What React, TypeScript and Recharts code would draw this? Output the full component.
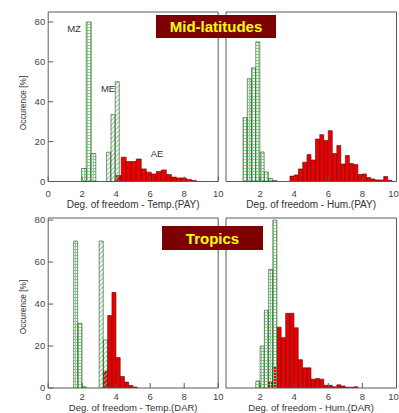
import React from 'react';
import { ComposedChart, Bar, XAxis, YAxis } from 'recharts';

// ---------- tick values ----------
const majorXTicksLeft = [0, 2, 4, 6, 8, 10];
const majorXTicksRight = [2, 4, 6, 8, 10];
const minorXMarks = [0.5, 1, 1.5, 2.5, 3, 3.5, 4.5, 5, 5.5, 6.5, 7, 7.5, 8.5, 9, 9.5];
const majorYTicks = [0, 20, 40, 60, 80];
const minorYMarks = [5, 10, 15, 25, 30, 35, 45, 50, 55, 65, 70, 75];

// ---------- Mid-latitudes, Temp (PAY) ----------
const tempPayMzX = [2.1, 2.37, 2.64];
const tempPayMzY = [6.5, 80, 14];
const tempPayMeX = [3.56, 3.82, 4.07];
const tempPayMeY = [14.7, 33.5, 50];
const tempPayAeX = [4.148, 4.443, 4.738, 5.033, 5.328, 5.623, 5.918, 6.213, 6.508, 6.803, 7.098, 7.393, 7.688, 7.983, 8.278, 8.573];
const tempPayAeY = [3, 12.2, 10, 10, 11.3, 6.3, 4.7, 3.8, 5, 5.8, 3.5, 2.2, 1.8, 1.8, 1, 0.5];

// ---------- Mid-latitudes, Hum (PAY) ----------
const humPayGreenX = [1.125, 1.375, 1.625, 1.875, 2.125, 2.375, 2.625, 2.875];
const humPayGreenY = [32, 51.5, 57, 70, 14.8, 4.8, 1.5, 0.5];
const humPayRedX = [3.875, 4.125, 4.375, 4.625, 4.875, 5.125, 5.375, 5.625, 5.875, 6.125, 6.375, 6.625, 6.875, 7.125, 7.375, 7.625, 7.875, 8.125, 8.375, 8.625, 8.875, 9.125, 9.375, 9.625];
const humPayRedY = [2.7, 3.3, 6.3, 9.7, 13.5, 10.8, 21.3, 23.5, 20.5, 25.5, 14, 18, 8.8, 13, 9, 8.5, 3.5, 3.8, 2, 1.3, 0.8, 0.8, 2.5, 0.6];

// ---------- Tropics, Temp (DAR) ----------
const tempDarGreen1X = [1.625, 1.875, 2.125];
const tempDarGreen1Y = [70, 30.8, 0.6];
const tempDarGreen2X = [3.125, 3.375];
const tempDarGreen2Y = [70, 22.9];
const tempDarRedX = [3.375, 3.625, 3.875, 4.125, 4.375, 4.625, 4.875, 5.125];
const tempDarRedY = [8, 34.5, 45.5, 14.5, 5.5, 2.8, 1.2, 0.5];

// ---------- Tropics, Hum (DAR) ----------
const humDarGreenX = [1.875, 2.125, 2.375, 2.625, 2.875];
const humDarGreenY = [3.3, 20, 37, 56.5, 80];
const humDarRedX = [2.625, 2.875, 3.125, 3.375, 3.625, 3.875, 4.125, 4.375, 4.625, 4.875, 5.125, 5.375, 5.625, 5.875, 6.125, 6.375, 6.625, 6.875, 7.125, 7.375, 7.625];
const humDarRedY = [3, 10, 29, 24, 35.6, 35.6, 28.7, 13.5, 9.6, 9.6, 4.2, 4.5, 4.2, 1.3, 1.3, 0.6, 1.5, 1, 0.4, 0.4, 0.6];

// ---------- layout ----------
const W = 399;
const H = 413;
const AX = 1; // size reserved by every axis
const FONT = '"Liberation Sans", Arial, Helvetica, sans-serif';
const RED = { fill: '#ee0000', stroke: '#5a0000' };
const GRID = { fill: 'url(#gridGreen)', stroke: '#2e3a2e' };
const DIAG = { fill: 'url(#diagGreen)', stroke: '#2e3a2e' };
const FRAME = '#5a5a5a';
const TICKFONT = { fontSize: 9.5, fill: '#444', fontFamily: FONT };

type Geom = { left: number; right: number; top: number; bottom: number; ymax: number; labelGap: number; lastEnd: boolean };
type Series = { xs: number[]; ys: number[]; style: { fill: string; stroke: string } };

const geomTL: Geom = { left: 48.2, right: 218.2, top: 12, bottom: 181.5, ymax: 85, labelGap: 9, lastEnd: false };
const geomTR: Geom = { left: 226, right: 396.5, top: 12, bottom: 181.5, ymax: 85, labelGap: 9, lastEnd: true };
const geomBL: Geom = { left: 48.2, right: 218.2, top: 218, bottom: 388, ymax: 81, labelGap: 5.5, lastEnd: false };
const geomBR: Geom = { left: 226, right: 396.5, top: 218, bottom: 388, ymax: 81, labelGap: 5.5, lastEnd: true };

const marginOf = (g: Geom) => ({ left: g.left - AX, top: g.top - AX, right: W - g.right - AX, bottom: H - g.bottom - AX });

function XTick(props: any) {
  const { x, y, payload, lastEnd } = props;
  const atEnd = lastEnd && payload && payload.value === 10;
  return (
    <text x={atEnd ? x + 2.3 : x} y={y} dy="0.71em" textAnchor={atEnd ? 'end' : 'middle'}
      fontSize={9.5} fill="#444" fontFamily={FONT}>
      {payload.value}
    </text>
  );
}

// role 0: frame + labels + major ticks; role 1: minor ticks; role 2: nothing
function SeriesChart({ g, s, role, showYLabels, xLabels }: { g: Geom; s: Series; role: number; showYLabels: boolean; xLabels: number[] }) {
  const rows = s.xs.map((x, i) => ({ x, y: s.ys[i] }));
  const frame = role === 0 ? { stroke: FRAME } : false;
  const tl = role === 2 ? false : { stroke: FRAME };
  const len = role === 0 ? -5 : -2.5;
  const xt = role === 0 ? xLabels : minorXMarks;
  const yt = role === 0 ? majorYTicks : minorYMarks;
  return (
    <div style={{ position: 'absolute', left: 0, top: 0 }}>
      <ComposedChart width={W} height={H} margin={marginOf(g)} data={rows} barCategoryGap={0} barGap={0}>
        <XAxis xAxisId="d" dataKey="x" type="number" domain={[0, 10]} allowDataOverflow height={AX}
          ticks={xt} interval={0} tickSize={len} tickLine={tl} axisLine={frame}
          tickMargin={g.labelGap + 5} tick={role === 0 ? <XTick lastEnd={g.lastEnd} /> : false} />
        <XAxis xAxisId="t" orientation="top" type="number" domain={[0, 10]} allowDataOverflow height={AX}
          ticks={xt} interval={0} tickSize={len} tickLine={tl} axisLine={frame} tick={false} />
        <YAxis yAxisId="d" type="number" domain={[0, g.ymax]} allowDataOverflow width={AX}
          ticks={yt} interval={0} tickSize={len} tickLine={tl} axisLine={frame}
          tickMargin={8} tick={role === 0 && showYLabels ? TICKFONT : false} />
        <YAxis yAxisId="r" orientation="right" type="number" domain={[0, g.ymax]} allowDataOverflow width={AX}
          ticks={yt} interval={0} tickSize={len} tickLine={tl} axisLine={frame} tick={false} />
        <Bar xAxisId="d" yAxisId="d" dataKey="y" fill={s.style.fill} stroke={s.style.stroke} strokeWidth={0.6} isAnimationActive={false} />
      </ComposedChart>
    </div>
  );
}

function Panel({ g, series, showYLabels, xLabels }: { g: Geom; series: Series[]; showYLabels: boolean; xLabels: number[] }) {
  return (
    <>
      {series.map((s, i) => (
        <SeriesChart key={i} g={g} s={s} role={Math.min(i, 2)} showYLabels={showYLabels} xLabels={xLabels} />
      ))}
    </>
  );
}

function Txt({ x, y, text, size, rotate, color }: { x: number; y: number; text: string; size: number; rotate?: boolean; color?: string }) {
  return (
    <div
      style={{
        position: 'absolute', left: x, top: y, whiteSpace: 'nowrap', fontFamily: FONT, fontSize: size,
        lineHeight: 1, color: color || '#333',
        transform: `translate(-50%, -50%)${rotate ? ' rotate(-90deg)' : ''}`,
      }}
    >
      {text}
    </div>
  );
}

export default function App() {
  return (
    <div style={{ position: 'absolute', left: 0, top: 0, width: W, height: H, overflow: 'hidden', background: '#fff' }}>
      <svg width={0} height={0} style={{ position: 'absolute' }}>
        <defs>
          <pattern id="gridGreen" width={3} height={3} patternUnits="userSpaceOnUse">
            <path d="M0 0.5 H3 M0.5 0 V3" stroke="#80d880" strokeWidth={1} fill="none" />
          </pattern>
          <pattern id="diagGreen" width={3.2} height={3.2} patternUnits="userSpaceOnUse" patternTransform="rotate(45)">
            <path d="M0.6 0 V3.2" stroke="#80d880" strokeWidth={1.1} fill="none" />
          </pattern>
        </defs>
      </svg>

      <Panel g={geomTL} showYLabels xLabels={majorXTicksLeft} series={[
        { xs: tempPayAeX, ys: tempPayAeY, style: RED },
        { xs: tempPayMzX, ys: tempPayMzY, style: GRID },
        { xs: tempPayMeX, ys: tempPayMeY, style: DIAG },
      ]} />
      <Panel g={geomTR} showYLabels={false} xLabels={majorXTicksRight} series={[
        { xs: humPayRedX, ys: humPayRedY, style: RED },
        { xs: humPayGreenX, ys: humPayGreenY, style: GRID },
      ]} />
      <Panel g={geomBL} showYLabels xLabels={majorXTicksLeft} series={[
        { xs: tempDarRedX, ys: tempDarRedY, style: RED },
        { xs: tempDarGreen1X, ys: tempDarGreen1Y, style: GRID },
        { xs: tempDarGreen2X, ys: tempDarGreen2Y, style: DIAG },
      ]} />
      <Panel g={geomBR} showYLabels={false} xLabels={majorXTicksRight} series={[
        { xs: humDarRedX, ys: humDarRedY, style: RED },
        { xs: humDarGreenX, ys: humDarGreenY, style: GRID },
      ]} />

      <Txt x={22.7} y={102.5} text="Occurence [%]" size={8.3} rotate />
      <Txt x={22.7} y={307} text="Occurence [%]" size={8.3} rotate />
      <Txt x={133.2} y={205} text="Deg. of freedom - Temp.(PAY)" size={10} />
      <Txt x={311.2} y={205} text="Deg. of freedom - Hum.(PAY)" size={10} />
      <Txt x={133.2} y={407.5} text="Deg. of freedom - Temp.(DAR)" size={9.5} />
      <Txt x={311.2} y={407.5} text="Deg. of freedom - Hum.(DAR)" size={9.5} />
      <Txt x={74} y={28.5} text="MZ" size={9.5} />
      <Txt x={108} y={88.5} text="ME" size={9.5} />
      <Txt x={157} y={153.5} text="AE" size={9.5} />

      <div style={{ position: 'absolute', left: 156, top: 15, width: 120, height: 23, background: '#7d0000', display: 'flex', alignItems: 'center', justifyContent: 'center' }}>
        <span style={{ fontFamily: FONT, fontWeight: 700, fontSize: 15, color: '#ffff00', lineHeight: 1 }}>Mid-latitudes</span>
      </div>
      <div style={{ position: 'absolute', left: 162, top: 226, width: 101, height: 24, background: '#7d0000', display: 'flex', alignItems: 'center', justifyContent: 'center' }}>
        <span style={{ fontFamily: FONT, fontWeight: 700, fontSize: 15, color: '#ffff00', lineHeight: 1 }}>Tropics</span>
      </div>
    </div>
  );
}
